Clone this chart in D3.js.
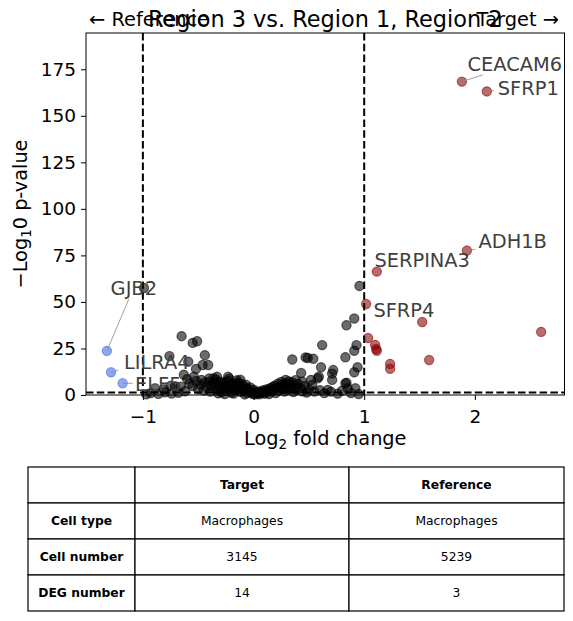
<!DOCTYPE html>
<html>
<head>
<meta charset="utf-8">
<script src="https://cdn.jsdelivr.net/npm/d3@7"></script>
<style>
  body { margin: 0; background: #fff; }
  text { font-family: 'DejaVu Sans', sans-serif; }
  .axis path, .axis line { stroke: #000; stroke-width: 1; }
  .axis text { font-size: 18.5px; fill: #000; }
  .thresh { stroke: #000; stroke-width: 2; stroke-dasharray: 7.5 3.3; fill: none; }
  .gene { font-size: 19.4px; fill: #404040; }
  .leader { stroke: #888; stroke-width: 0.8; }
  .cell { fill: #fff; stroke: #000; stroke-width: 1.2; }
  .cell-text { font-size: 12.3px; fill: #000; }
</style>
</head>
<body>
<script>
// values
const upLfc = [1.883, 2.108, 1.928, 1.114, 1.017, 1.524, 2.599, 1.035, 1.099, 1.108, 1.114, 1.587, 1.234, 1.234]
const upLogp = [168.4, 163.1, 77.6, 66.3, 48.9, 39.2, 33.9, 30.6, 26.9, 24.7, 23.8, 18.8, 16.7, 14.1]
const upGene = ['CEACAM6', 'SFRP1', 'ADH1B', 'SERPINA3', 'SFRP4', '', '', '', '', '', '', '', '', '']

const downLfc = [-1.325, -1.288, -1.183]
const downLogp = [23.7, 12.2, 6.3]
const downGene = ['GJB2', 'LILRA4', 'ELF5']

// not significant genes [log2fc, -log10 p]
const nsPoints = [
  [-0.99, 57.5], [0.957, 58.6],
  [-0.65, 31.6], [-0.55, 28.0], [-0.51, 28.9], [-0.76, 20.9], [-0.44, 21.4], [-0.59, 17.9],
  [-0.46, 16.1], [-0.41, 16.1], [-0.52, 14.0], [-0.63, 10.9], [-0.54, 9.8], [-0.23, 9.8],
  [-0.33, 9.8], [-0.40, 8.9], [-0.60, 8.5], [-0.89, 3.6], [-0.81, 3.1], [-0.71, 4.5],
  [-0.75, 4.9], [-0.66, 4.5],
  [0.91, 41.1], [0.84, 37.5], [0.93, 26.8], [0.91, 23.8], [0.62, 26.8], [0.83, 20.3],
  [0.35, 19.1], [0.47, 20.2], [0.49, 19.9], [0.54, 19.5], [0.94, 14.9], [0.91, 12.2],
  [0.61, 14.9], [0.72, 13.4], [0.71, 11.5], [0.43, 11.8], [0.59, 9.8], [0.71, 8.1],
  [0.84, 6.6], [0.92, 3.6], [0.85, 3.6], [0.67, 2.7], [0.44, 7.2], [0.52, 8.1],
  [0.58, 9.0], [0.29, 8.1], [0.83, 6.2],
  [-0.58, 6.2], [-0.55, 4.8], [-0.52, 7.5], [-0.50, 3.1], [-0.48, 5.6], [-0.47, 8.1],
  [-0.45, 2.4], [-0.44, 6.8], [-0.42, 4.3], [-0.40, 7.2], [-0.39, 1.8], [-0.38, 5.1],
  [-0.36, 3.6], [-0.35, 6.5], [-0.34, 8.4], [-0.33, 2.7], [-0.31, 4.9], [-0.30, 7.0],
  [-0.29, 1.5], [-0.28, 5.8], [-0.27, 3.9], [-0.26, 6.9], [-0.25, 2.2], [-0.24, 4.6],
  [-0.23, 7.6], [-0.22, 3.3], [-0.21, 5.5], [-0.20, 1.2], [-0.19, 6.3], [-0.18, 4.0],
  [-0.17, 2.6], [-0.16, 5.2], [-0.15, 7.9], [-0.14, 3.0], [-0.13, 4.7], [-0.12, 1.7],
  [-0.11, 6.0], [-0.10, 3.5], [-0.09, 2.1], [-0.08, 4.4], [-0.07, 5.6], [-0.06, 1.0],
  [-0.05, 3.2], [-0.04, 2.5], [-0.03, 4.1], [-0.02, 1.4], [-0.01, 0.6], [0.00, 2.8],
  [0.01, 0.3], [0.02, 1.9], [0.03, 0.8], [0.04, 1.2], [0.05, 0.4], [0.06, 2.0],
  [0.07, 0.9], [0.08, 1.6], [0.09, 2.6], [0.10, 0.7], [0.11, 1.3], [0.12, 3.1],
  [0.13, 2.2], [0.14, 0.5], [0.15, 3.6], [0.16, 1.8], [0.17, 4.2], [0.18, 2.7],
  [0.19, 5.0], [0.20, 1.1], [0.21, 3.8], [0.22, 6.1], [0.23, 2.4], [0.24, 4.7],
  [0.25, 7.0], [0.26, 3.3], [0.27, 5.5], [0.28, 1.9], [0.29, 6.4], [0.30, 4.0],
  [0.31, 2.9], [0.32, 7.3], [0.33, 5.2], [0.34, 3.4], [0.35, 6.7], [0.36, 1.6],
  [0.37, 4.6], [0.38, 8.0], [0.39, 2.8], [0.40, 5.9], [0.42, 3.7], [0.44, 2.0],
  [0.46, 4.8], [0.48, 1.3], [0.50, 3.0], [0.53, 5.4], [0.55, 1.9], [0.60, 2.6],
  [0.64, 1.0], [0.70, 1.8], [0.76, 0.7], [0.80, 2.3], [0.88, 1.1], [0.95, 0.5],
  [-0.62, 2.0], [-0.68, 1.2], [-0.74, 0.8], [-0.80, 1.5], [-0.86, 0.6], [-0.93, 1.0],
  [-0.97, 0.4], [-0.32, 0.9], [-0.26, 0.5], [-0.18, 0.8], [-0.14, 6.6], [-0.08, 0.3],
  [-0.22, 8.8], [-0.36, 9.0], [-0.12, 8.2]
]

const lfcCut = 1
const pCut = 1.3
const xTicks = [-1, 0, 1, 2]
const yTicks = [0, 25, 50, 75, 100, 125, 150, 175]

const title = 'Region 3 vs. Region 1, Region 2'
const tableHeader = ['', 'Target', 'Reference']
const tableRows = [
  ['Cell type', 'Macrophages', 'Macrophages'],
  ['Cell number', '3145', '5239'],
  ['DEG number', '14', '3']
]

// set dimensions and margins
const width = 573
const height = 621
const margin = {top: 33, right: 8.5, bottom: 226, left: 86}
const adjustedWidth = width - margin.left - margin.right
const adjustedHeight = height - margin.top - margin.bottom

const x = d3.scaleLinear().domain([-1.514, 2.81]).range([0, adjustedWidth])
const y = d3.scaleLinear().domain([0, 194.5]).range([adjustedHeight, 0])

const svg = d3.select('body').append('svg')
    .attr('width', width)
    .attr('height', height)

const g = svg.append('g')
    .attr('transform', `translate(${margin.left}, ${margin.top})`)

// points
const nsData = nsPoints.map(([lfc, p]) => ({lfc, p}))
const upData = upLfc.map((lfc, i) => ({lfc, p: upLogp[i], gene: upGene[i]}))
const downData = downLfc.map((lfc, i) => ({lfc, p: downLogp[i], gene: downGene[i]}))

function drawDots(data, color) {
  g.append('g').selectAll('circle')
    .data(data)
    .enter().append('circle')
      .attr('cx', (d) => x(d.lfc))
      .attr('cy', (d) => y(d.p))
      .attr('r', 4.6)
      .attr('fill', color)
      .attr('fill-opacity', 0.58)
      .attr('stroke', color)
      .attr('stroke-opacity', 0.58)
      .attr('stroke-width', 1.2)
}

drawDots(nsData, '#000')
drawDots(upData, '#8b0000')
drawDots(downData, '#4169e1')

// threshold lines
g.append('line').attr('class', 'thresh')
  .attr('x1', x(-lfcCut)).attr('x2', x(-lfcCut))
  .attr('y1', 0).attr('y2', adjustedHeight)
g.append('line').attr('class', 'thresh')
  .attr('x1', x(lfcCut)).attr('x2', x(lfcCut))
  .attr('y1', 0).attr('y2', adjustedHeight)
g.append('line').attr('class', 'thresh')
  .attr('x1', 0).attr('x2', adjustedWidth)
  .attr('y1', y(pCut)).attr('y2', y(pCut))

// frame + axes
g.append('rect')
  .attr('width', adjustedWidth)
  .attr('height', adjustedHeight)
  .attr('fill', 'none')
  .attr('stroke', '#000')

g.append('g')
  .attr('class', 'axis axis--x')
  .attr('transform', `translate(0, ${adjustedHeight})`)
  .call(d3.axisBottom(x).tickValues(xTicks).tickSize(5).tickPadding(10).tickFormat(d3.format('d')))
  .call((a) => a.select('.domain').remove())

g.append('g')
  .attr('class', 'axis axis--y')
  .call(d3.axisLeft(y).tickValues(yTicks).tickSize(5).tickPadding(5))
  .call((a) => a.select('.domain').remove())

// gene labels (pixel offsets: text dx/dy, leader end lx/ly)
const labelPos = {
  CEACAM6: {dx: 5.6, dy: -11, lx: 21, ly: -6.7},
  SFRP1: {dx: 11, dy: 3.3, lx: 7.3, ly: -1},
  ADH1B: {dx: 11.6, dy: -2.4, lx: 8.3, ly: -1.4},
  SERPINA3: {dx: -2.4, dy: -5},
  SFRP4: {dx: 7.3, dy: 13.3},
  GJB2: {dx: 3.7, dy: -56, lx: 22, ly: -52},
  LILRA4: {dx: 13, dy: -2.8, lx: 7.3, ly: -2.3},
  ELF5: {dx: 12.3, dy: 7.3, lx: 10, ly: 0}
}

const labelled = upData.concat(downData).filter((d) => d.gene)

labelled.forEach((d) => {
  const o = labelPos[d.gene]
  const px = x(d.lfc)
  const py = y(d.p)
  if (o.lx !== undefined) {
    g.append('line').attr('class', 'leader')
      .attr('x1', px).attr('y1', py)
      .attr('x2', px + o.lx).attr('y2', py + o.ly)
  }
  g.append('text').attr('class', 'gene')
    .attr('x', px + o.dx)
    .attr('y', py + o.dy)
    .text(d.gene)
})

// axis titles
const xl = svg.append('text')
  .attr('x', margin.left + adjustedWidth / 2)
  .attr('y', 445)
  .attr('text-anchor', 'middle')
  .style('font-size', '19.3px')
xl.append('tspan').text('Log')
xl.append('tspan').attr('dy', 4).style('font-size', '13.5px').text('2')
xl.append('tspan').attr('dy', -4).text(' fold change')

const yl = svg.append('text')
  .attr('transform', `translate(27, ${margin.top + adjustedHeight / 2}) rotate(-90)`)
  .attr('text-anchor', 'middle')
  .style('font-size', '19.3px')
yl.append('tspan').text('\u2212Log')
yl.append('tspan').attr('dy', 4).style('font-size', '13.5px').text('1')
yl.append('tspan').attr('dy', -4).text('0 p-value')

// title and direction hints
svg.append('text')
  .attr('x', 89).attr('y', 26)
  .style('font-size', '19.4px')
  .text('\u2190 Reference')

svg.append('text')
  .attr('x', 559).attr('y', 26)
  .attr('text-anchor', 'end')
  .style('font-size', '19.4px')
  .text('Target \u2192')

svg.append('text')
  .attr('x', margin.left + adjustedWidth / 2).attr('y', 27)
  .attr('text-anchor', 'middle')
  .style('font-size', '22.4px')
  .text(title)

// summary table
const colX = [28, 135, 349, 564]
const rowH = 36
const tableTop = 467
const rows = [tableHeader].concat(tableRows)

const tbl = svg.append('g')
rows.forEach((row, r) => {
  row.forEach((cell, c) => {
    const x0 = colX[c]
    const w = colX[c + 1] - colX[c]
    const y0 = tableTop + r * rowH
    tbl.append('rect').attr('class', 'cell')
      .attr('x', x0).attr('y', y0)
      .attr('width', w).attr('height', rowH)
    tbl.append('text').attr('class', 'cell-text')
      .attr('x', x0 + w / 2)
      .attr('y', y0 + rowH / 2)
      .attr('dy', '0.36em')
      .attr('text-anchor', 'middle')
      .style('font-weight', (r === 0 || c === 0) ? 'bold' : 'normal')
      .text(cell)
  })
})
</script>
</body>
</html>
